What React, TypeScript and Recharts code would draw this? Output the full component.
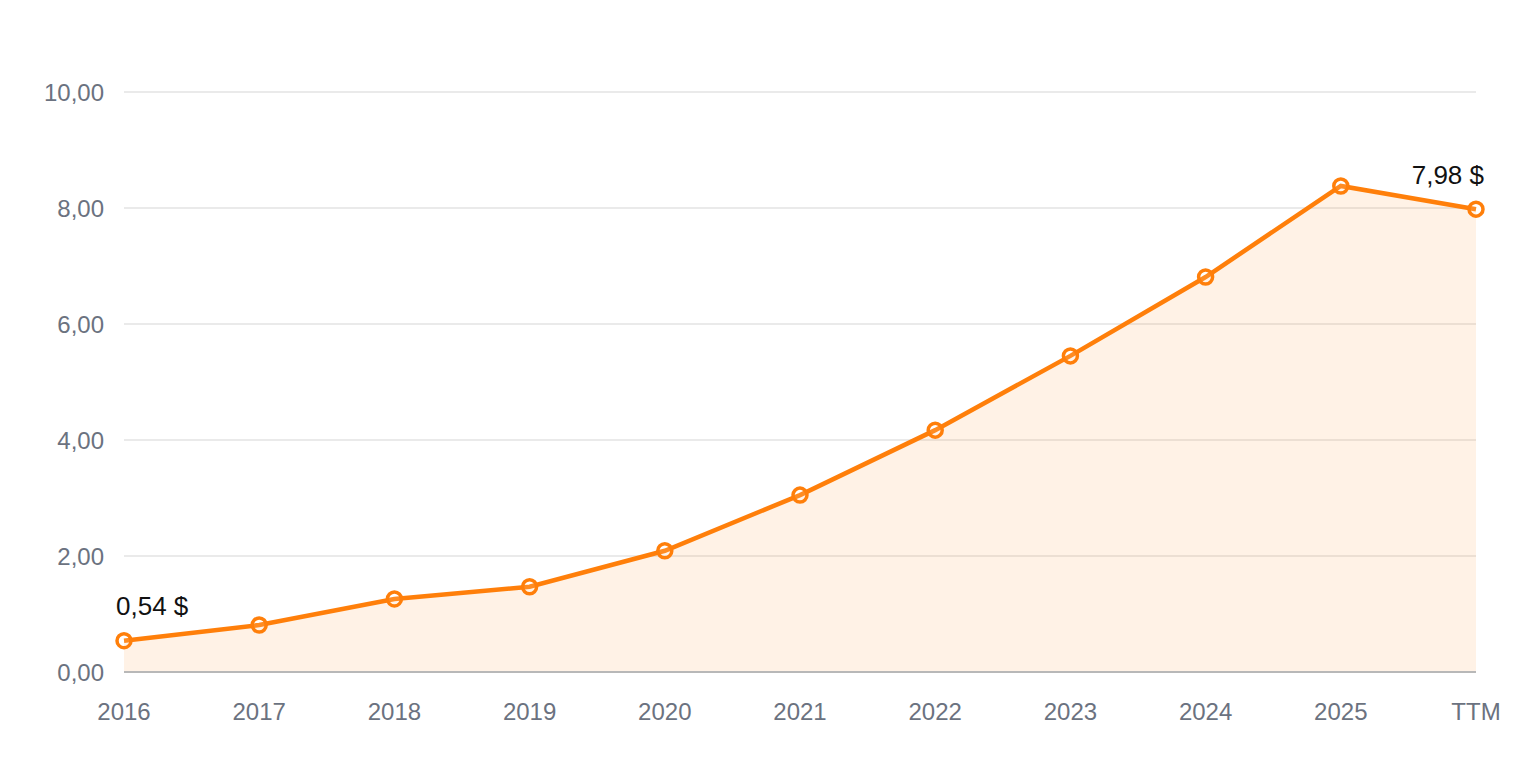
import { AreaChart, Area, XAxis, YAxis, CartesianGrid } from 'recharts'

const years = ['2016', '2017', '2018', '2019', '2020', '2021', '2022', '2023', '2024', '2025', 'TTM']
const eps = [0.54, 0.81, 1.26, 1.47, 2.09, 3.05, 4.17, 5.45, 6.81, 8.38, 7.98]
const yTicks = [0, 2, 4, 6, 8, 10]

const data = years.map((year, i) => ({ year, eps: eps[i] }))

const ORANGE = '#ff7f0a'
const FONT = '"Liberation Sans", Arial, Helvetica, sans-serif'

const fmt = (v: number) => v.toFixed(2).replace('.', ',')

// only the first and last points get a value label
const EndLabel = ({ x, y, value, index }: any) => {
  if (index === 0) {
    return (
      <text x={x - 8} y={y - 26} fill="#111" fontSize={26} fontFamily={FONT} textAnchor="start">
        {fmt(value)} $
      </text>
    )
  }
  if (index === data.length - 1) {
    return (
      <text x={x + 8} y={y - 25} fill="#111" fontSize={26} fontFamily={FONT} textAnchor="end">
        {fmt(value)} $
      </text>
    )
  }
  return null
}

export default function App() {
  return (
    <div style={{ position: 'absolute', left: 0, top: 0, background: '#fff' }}>
      <AreaChart width={1520} height={760} data={data} margin={{ top: 92, right: 44, left: 0, bottom: 28 }}>
        <CartesianGrid vertical={false} stroke="#e3e3e3" strokeWidth={1.5} />
        <XAxis
          dataKey="year"
          height={60}
          axisLine={{ stroke: '#b8b8b8', strokeWidth: 2 }}
          tickLine={false}
          tick={{ fill: '#6b7280', fontSize: 24, fontFamily: FONT }}
          tickMargin={25}
          interval={0}
        />
        <YAxis
          width={124}
          domain={[0, 10]}
          ticks={yTicks}
          tickFormatter={fmt}
          axisLine={false}
          tickLine={false}
          tick={{ fill: '#6b7280', fontSize: 24, fontFamily: FONT }}
          tickMargin={14}
        />
        <Area
          type="linear"
          dataKey="eps"
          stroke={ORANGE}
          strokeWidth={4.5}
          fill={ORANGE}
          fillOpacity={0.1}
          dot={{ r: 7, fill: '#fff', stroke: ORANGE, strokeWidth: 3.5 }}
          activeDot={false}
          label={<EndLabel />}
          isAnimationActive={false}
        />
      </AreaChart>
    </div>
  )
}
